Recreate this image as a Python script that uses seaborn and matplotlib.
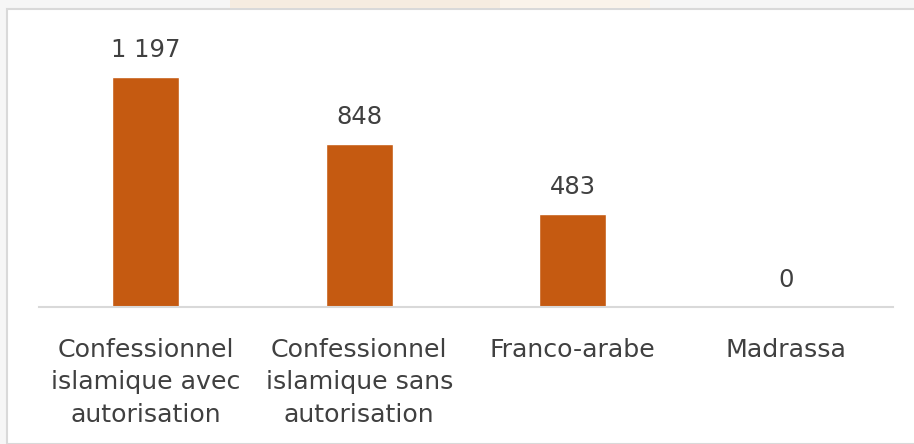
import numpy as np
import pandas as pd
import matplotlib
matplotlib.use("Agg")
import matplotlib.pyplot as plt
import seaborn as sns
from matplotlib.patches import Rectangle

categories = [
    "Confessionnel\nislamique avec\nautorisation",
    "Confessionnel\nislamique sans\nautorisation",
    "Franco-arabe",
    "Madrassa",
]
values = [1197, 848, 483, 0]
value_labels = ["1 197", "848", "483", "0"]

df = pd.DataFrame({"Catégorie": categories, "Effectif": values})

sns.set_style("white")
plt.rcParams["font.family"] = ["DejaVu Sans"]

W, H = 914, 444
fig = plt.figure(figsize=(W / 100, H / 100), dpi=100, facecolor="#f6f6f6")

# white chart panel with a light border, as in the screenshot
fig.add_artist(Rectangle((7 / W, 0), 1, (H - 9) / H, transform=fig.transFigure,
                         facecolor="white", edgecolor="#d9d9d9", linewidth=1.5, zorder=-10))
fig.add_artist(Rectangle((230 / W, (H - 8) / H), 270 / W, 8 / H, transform=fig.transFigure,
                         facecolor="#f6ece0", edgecolor="none", zorder=-10))
fig.add_artist(Rectangle((500 / W, (H - 8) / H), 150 / W, 8 / H, transform=fig.transFigure,
                         facecolor="#faf3ea", edgecolor="none", zorder=-10))

ax = fig.add_axes([39 / W, 137 / H, 854 / W, 297 / H])
ax.set_facecolor("none")

sns.barplot(data=df, x="Catégorie", y="Effectif", color="#C55A11", saturation=1,
            width=0.314, ax=ax)

ax.set_ylim(0, 1545)
ax.set_xlim(-0.5, 3.5)

for i, (v, lab) in enumerate(zip(values, value_labels)):
    ax.annotate(lab, (i, v), xytext=(0, 11), textcoords="offset points",
                ha="center", va="bottom", fontsize=17.5, color="#404040")

ax.set_xlabel("")
ax.set_ylabel("")
ax.set_yticks([])
ax.tick_params(axis="x", length=0, pad=22, labelsize=18.2, labelcolor="#404040")
for lab in ax.get_xticklabels():
    lab.set_linespacing(1.47)

for s in ["top", "right", "left"]:
    ax.spines[s].set_visible(False)
ax.spines["bottom"].set_color("#d9d9d9")
ax.spines["bottom"].set_linewidth(1.5)

fig.savefig("out.png", dpi=100, facecolor=fig.get_facecolor())
